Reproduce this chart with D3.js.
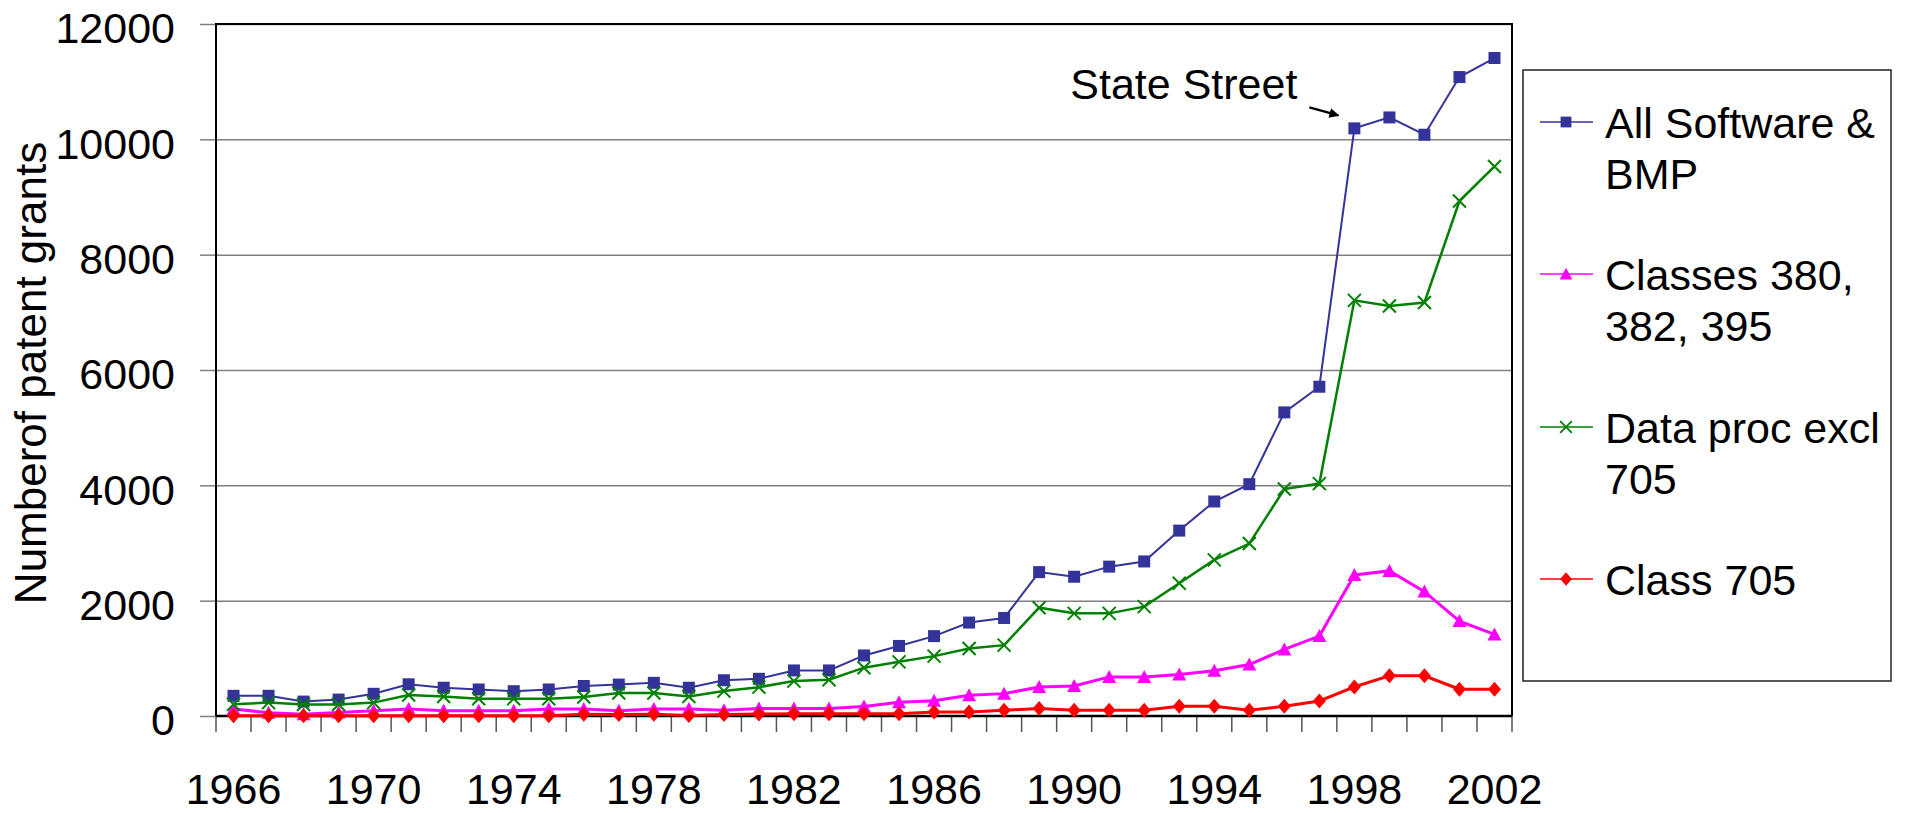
<!DOCTYPE html>
<html>
<head>
<meta charset="utf-8">
<script src="https://cdn.jsdelivr.net/npm/d3@7"></script>
<style>
  body { margin: 0; background: #fff; }
  svg { display: block; font-family: "Liberation Sans", Arial, sans-serif; }
</style>
</head>
<body>
<div id="chart"></div>
<script>
// Data
const years = [1966, 1967, 1968, 1969, 1970, 1971, 1972, 1973, 1974, 1975,
               1976, 1977, 1978, 1979, 1980, 1981, 1982, 1983, 1984, 1985,
               1986, 1987, 1988, 1989, 1990, 1991, 1992, 1993, 1994, 1995,
               1996, 1997, 1998, 1999, 2000, 2001, 2002];
const labelYears = [1966, 1970, 1974, 1978, 1982, 1986, 1990, 1994, 1998, 2002];
const yTicks = [0, 2000, 4000, 6000, 8000, 10000, 12000];

const allSoftware = [350, 350, 250, 285, 385, 550, 490, 460, 430, 460,
                     520, 545, 575, 490, 620, 645, 790, 790, 1050, 1215,
                     1385, 1620, 1700, 2495, 2415, 2590, 2680, 3215, 3720, 4020,
                     5265, 5710, 10190, 10380, 10080, 11080, 11410];
const classes380 = [120, 58, 29, 60, 92, 120, 92, 92, 92, 120,
                    120, 92, 120, 120, 99, 128, 128, 128, 165, 238,
                    265, 360, 388, 504, 522, 678, 678, 719, 783, 893,
                    1154, 1386, 2446, 2516, 2157, 1646, 1414];
const dataProc = [203, 232, 200, 200, 232, 365, 338, 300, 300, 300,
                  330, 400, 400, 338, 432, 500, 605, 628, 838, 939,
                  1038, 1171, 1229, 1878, 1780, 1780, 1896, 2301, 2708, 2990,
                  3935, 4030, 7208, 7110, 7170, 8930, 9530];
const class705 = [5, 5, 5, 5, 5, 5, 5, 5, 5, 5,
                  30, 25, 30, 10, 25, 35, 38, 40, 40, 40,
                  70, 70, 100, 128, 99, 99, 99, 168, 168, 99,
                  168, 261, 504, 696, 696, 464, 464];

const seriesNames = [["All Software &", "BMP"], ["Classes 380,", "382, 395"],
                     ["Data proc excl", "705"], ["Class 705"]];
const annotationText = "State Street";
const annotationYear = 1998;
const yTitle = "Numberof patent grants";

// Series styling (draw order matches the legend)
const series = [
  { name: seriesNames[0], values: allSoftware, color: "#333399", width: 2,   marker: "square" },
  { name: seriesNames[1], values: classes380,  color: "#ff00ff", width: 3,   marker: "triangle" },
  { name: seriesNames[2], values: dataProc,    color: "#008000", width: 2.5, marker: "cross" },
  { name: seriesNames[3], values: class705,    color: "#ff0000", width: 3,   marker: "diamond" }
];

const markerPath = {
  square:   "M-6,-6H6V6H-6Z",
  triangle: "M0,-7L7,6H-7Z",
  diamond:  "M0,-7.5L6.5,0L0,7.5L-6.5,0Z",
  cross:    "M-6.5,-6.5L6.5,6.5M-6.5,6.5L6.5,-6.5"
};

const W = 1908, H = 813;
const margin = { top: 24, right: W - 1512, bottom: H - 716, left: 216 };
const width = W - margin.left - margin.right;
const height = H - margin.top - margin.bottom;
const fontSize = 43;

const svg = d3.select("#chart").append("svg")
    .attr("width", W)
    .attr("height", H);

const g = svg.append("g")
    .attr("transform", `translate(${margin.left},${margin.top})`);

const x = d3.scaleBand().domain(years).range([0, width]).padding(0);
const cx = yr => x(yr) + x.bandwidth() / 2;
const y = d3.scaleLinear().domain([0, 12000]).range([height, 0]);

// Gridlines
g.append("g")
    .call(d3.axisLeft(y).tickValues(yTicks.slice(1)).tickSize(-width).tickFormat(""))
    .call(a => a.select(".domain").remove())
    .call(a => a.selectAll("text").remove())
    .call(a => a.selectAll("line").attr("stroke", "#808080").attr("stroke-width", 1.5));

// Y axis ticks + labels
g.append("g")
    .call(d3.axisLeft(y).tickValues(yTicks).tickSize(16).tickPadding(25).tickFormat(d3.format("d")))
    .call(a => a.select(".domain").remove())
    .call(a => a.selectAll("line").attr("stroke", "#808080").attr("stroke-width", 1.5))
    .call(a => a.selectAll("text")
        .attr("font-size", fontSize)
        .attr("font-family", "'Liberation Sans', Arial, sans-serif")
        .attr("fill", "#000")
        .attr("dy", "0.44em"));

// X axis category boundary ticks
g.append("g")
    .selectAll("line")
    .data(years.map(yr => x(yr)).concat([width]))
    .join("line")
    .attr("x1", d => d).attr("x2", d => d)
    .attr("y1", height).attr("y2", height + 16)
    .attr("stroke", "#555").attr("stroke-width", 1.5);

// X labels every 4 years
g.append("g")
    .attr("transform", `translate(0,${height})`)
    .call(d3.axisBottom(x).tickValues(labelYears).tickSize(0).tickPadding(57))
    .call(a => a.select(".domain").remove())
    .call(a => a.selectAll("text")
        .attr("font-size", fontSize)
        .attr("font-family", "'Liberation Sans', Arial, sans-serif")
        .attr("fill", "#000"));

// Plot frame
g.append("path")
    .attr("d", `M0,${height}V0H${width}V${height}`)
    .attr("fill", "none").attr("stroke", "#000").attr("stroke-width", 2);
g.append("line")
    .attr("x1", 0).attr("x2", width).attr("y1", height).attr("y2", height)
    .attr("stroke", "#000").attr("stroke-width", 2.5);

// Series
const line = d3.line().x(d => cx(d.year)).y(d => y(d.value));

series.forEach(s => {
  const pts = years.map((yr, i) => ({ year: yr, value: s.values[i] }));
  g.append("path")
      .datum(pts)
      .attr("fill", "none")
      .attr("stroke", s.color)
      .attr("stroke-width", s.width)
      .attr("d", line);
  g.append("g")
      .selectAll("path")
      .data(pts)
      .join("path")
      .attr("transform", d => `translate(${cx(d.year)},${y(d.value)})`)
      .attr("d", markerPath[s.marker])
      .attr("fill", s.marker === "cross" ? "none" : s.color)
      .attr("stroke", s.marker === "cross" ? s.color : "none")
      .attr("stroke-width", 2);
});

// Annotation
const ax = cx(annotationYear), ay = y(allSoftware[years.indexOf(annotationYear)]);
svg.append("defs").append("marker")
    .attr("id", "arrowhead")
    .attr("viewBox", "0 0 10 10")
    .attr("refX", 9).attr("refY", 5)
    .attr("markerWidth", 4).attr("markerHeight", 4)
    .attr("orient", "auto")
    .append("path").attr("d", "M0,0L10,5L0,10Z").attr("fill", "#000");

g.append("line")
    .attr("x1", ax - 45).attr("y1", ay - 21)
    .attr("x2", ax - 16).attr("y2", ay - 13)
    .attr("stroke", "#000").attr("stroke-width", 2.5)
    .attr("marker-end", "url(#arrowhead)");

g.append("text")
    .attr("x", ax - 57).attr("y", ay - 29)
    .attr("text-anchor", "end")
    .attr("font-size", fontSize)
    .text(annotationText);

// Y axis title
svg.append("text")
    .attr("transform", `translate(46,373) rotate(-90)`)
    .attr("text-anchor", "middle")
    .attr("font-size", 44)
    .text(yTitle);

// Legend
const legend = svg.append("g");
legend.append("rect")
    .attr("x", 1523).attr("y", 70)
    .attr("width", 368).attr("height", 611)
    .attr("fill", "#fff").attr("stroke", "#222").attr("stroke-width", 1.5);

const legendRowY = [122, 274, 427, 579];
series.forEach((s, i) => {
  const row = legend.append("g").attr("transform", `translate(0,${legendRowY[i]})`);
  row.append("line")
      .attr("x1", 1540).attr("x2", 1593).attr("y1", 0).attr("y2", 0)
      .attr("stroke", s.color).attr("stroke-width", 1.5);
  row.append("path")
      .attr("transform", "translate(1566,0) scale(0.9)")
      .attr("d", markerPath[s.marker])
      .attr("fill", s.marker === "cross" ? "none" : s.color)
      .attr("stroke", s.marker === "cross" ? s.color : "none")
      .attr("stroke-width", 2);
  row.append("text")
      .attr("x", 1605).attr("y", 16)
      .attr("font-size", 43)
      .selectAll("tspan")
      .data(s.name)
      .join("tspan")
      .attr("x", 1605)
      .attr("dy", (d, j) => j === 0 ? 0 : 51)
      .text(d => d);
});
</script>
</body>
</html>
